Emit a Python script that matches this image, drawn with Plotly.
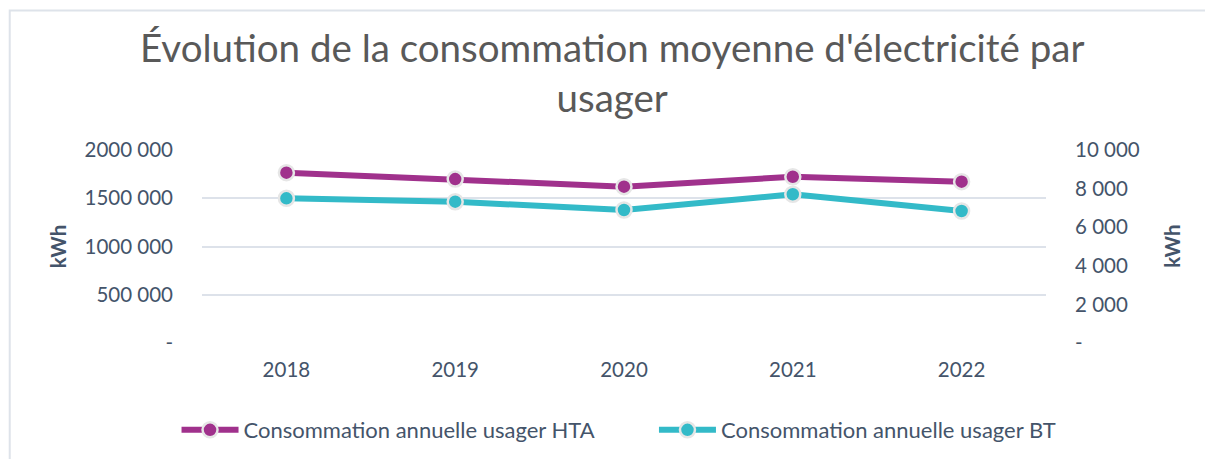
import plotly.graph_objects as go

years = ["2018", "2019", "2020", "2021", "2022"]
hta = [1765000, 1699000, 1620000, 1723000, 1672000]
bt = [7497, 7321, 6891, 7705, 6839]

left_vals = [0, 500000, 1000000, 1500000, 2000000]
left_text = ["-", "500 000", "1000 000", "1500 000", "2000 000"]
right_vals = [0, 2000, 4000, 6000, 8000, 10000]
right_text = ["-", "2 000", "4 000", "6 000", "8 000", "10 000"]

FONT = "Lato"
TICK_COLOR = "#44546A"
W, H = 1205, 451
L, R, T, B = 193.5, 166.5, 142, 116
PW = W - L - R
PH = H - T - B


def px(x):
    return (x - L) / PW


def py(y):
    return (H - B - y) / PH


fig = go.Figure()
fig.add_trace(go.Scatter(
    x=years, y=hta, name="Consommation annuelle usager HTA",
    mode="lines+markers",
    line=dict(color="#A0318C", width=6),
    marker=dict(size=15, color="#A0318C", line=dict(color="#E6E6E6", width=2.5)),
    yaxis="y", legend="legend"))
fig.add_trace(go.Scatter(
    x=years, y=bt, name="Consommation annuelle usager BT",
    mode="lines+markers",
    line=dict(color="#33BAC8", width=6),
    marker=dict(size=15, color="#33BAC8", line=dict(color="#E6E6E6", width=2.5)),
    yaxis="y2", legend="legend2"))

legend_common = dict(orientation="h", yanchor="middle", y=py(422), xanchor="left",
                     font=dict(size=22, color=TICK_COLOR, family=FONT), itemwidth=57,
                     bgcolor="rgba(0,0,0,0)")

fig.update_layout(
    width=W, height=H,
    margin=dict(l=L, r=R, t=T, b=B, autoexpand=False),
    paper_bgcolor="white", plot_bgcolor="white",
    font=dict(family=FONT, color=TICK_COLOR, size=20.5),
    xaxis=dict(range=[-0.5, 4.5], showgrid=False, showline=False, ticks="",
               tickfont=dict(size=20.5, color=TICK_COLOR),
               ticklabelstandoff=12, automargin=False),
    yaxis=dict(range=[0, 2000000], tickvals=left_vals, ticktext=left_text,
               showgrid=True, gridcolor="#DDE2EA", gridwidth=1.5, zeroline=False,
               tickfont=dict(size=20.5, color=TICK_COLOR), ticklabelstandoff=28, automargin=False),
    yaxis2=dict(range=[0, 10000], tickvals=right_vals, ticktext=right_text,
                overlaying="y", side="right", showgrid=False, zeroline=False,
                tickfont=dict(size=20.5, color=TICK_COLOR), ticklabelstandoff=28, automargin=False),
    legend=dict(x=px(168), **legend_common),
    legend2=dict(x=px(646), **legend_common),
    showlegend=True,
)

fig.add_annotation(text="Évolution de la consommation moyenne d'électricité par<br>usager",
                   xref="paper", yref="paper", x=px(604), y=py(64),
                   xanchor="center", yanchor="middle", showarrow=False,
                   font=dict(family=FONT, size=38.5, color="#595959"))

fig.add_annotation(text="<b>kWh</b>", xref="paper", yref="paper",
                   x=px(49), y=0.5, xanchor="center", yanchor="middle",
                   textangle=-90, showarrow=False,
                   font=dict(size=20.5, color=TICK_COLOR, family=FONT))
fig.add_annotation(text="<b>kWh</b>", xref="paper", yref="paper",
                   x=px(1164), y=0.5, xanchor="center", yanchor="middle",
                   textangle=-90, showarrow=False,
                   font=dict(size=20.5, color=TICK_COLOR, family=FONT))

fig.add_shape(type="rect", xref="paper", yref="paper",
              x0=px(1), x1=px(1260), y0=py(480), y1=py(2.5),
              line=dict(color="#DEE3EA", width=2), fillcolor="rgba(0,0,0,0)",
              layer="below")

fig.write_html("out.html")
